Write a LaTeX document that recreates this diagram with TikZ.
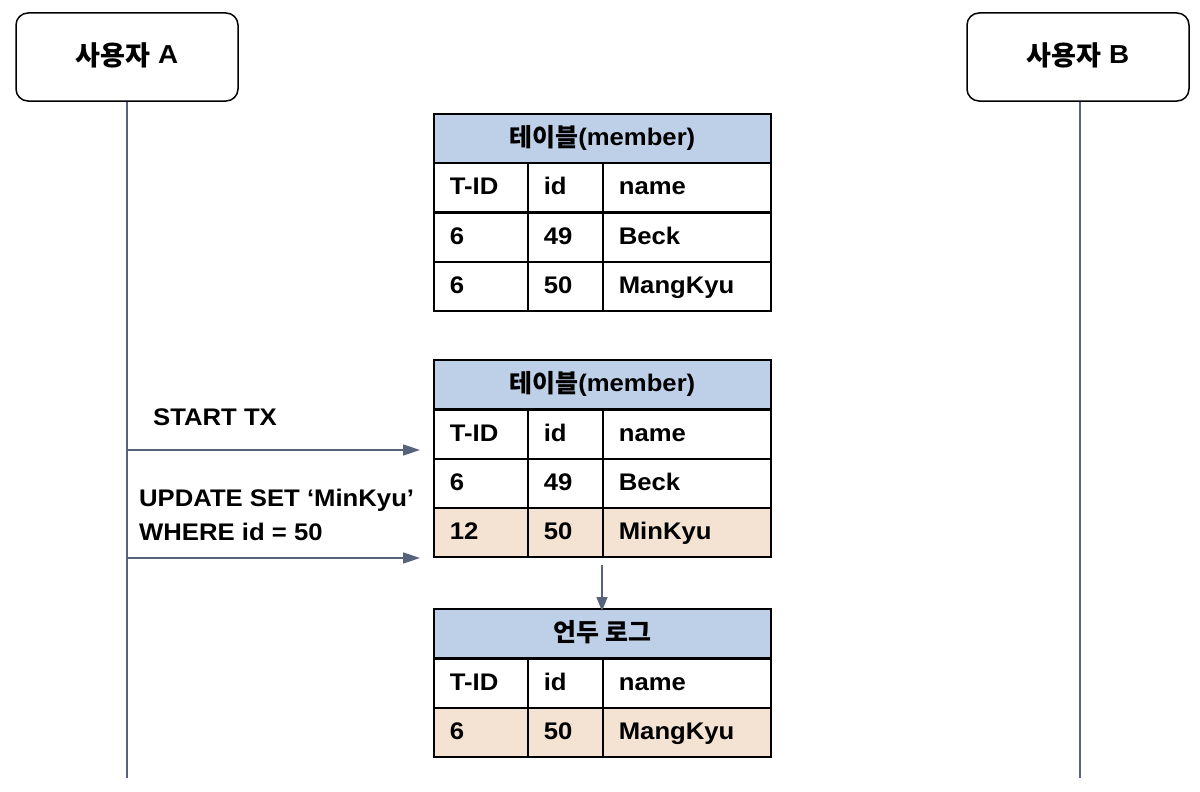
\documentclass[tikz,border=0pt]{standalone}
\usepackage{fontspec}
\setmainfont{Liberation Sans}[FakeStretch=1.07]
\newfontfamily\kr{Noto Sans CJK KR}[Scale=1.04]
\usetikzlibrary{arrows.meta}
\definecolor{hdblue}{RGB}{190,208,232}
\definecolor{rowtan}{RGB}{244,226,210}
\definecolor{lifegray}{RGB}{86,99,122}
\newcommand\hangul[1]{\raisebox{-1.5pt}{\kr #1}}
% one table row: y, name, fill, three cells
\newcommand\tabrow[6]{%
	\node[cell, fill=#3, minimum width=94pt, text width=62pt] (#2a) at (433,#1) {#4};
	\node[cell, fill=#3, minimum width=75pt, text width=43pt] (#2b) at (527,#1) {#5};
	\node[cell, fill=#3, minimum width=168pt, text width=136pt] (#2c) at (602,#1) {#6};}

\begin{document}
\begin{tikzpicture}[x=1pt, y=-1pt,
	txt/.style={font=\bfseries\fontsize{24}{34}\selectfont},
	actor/.style={font=\bfseries\fontsize{26}{30}\selectfont, draw=black, line width=1.5pt, rounded corners=12pt, minimum width=222pt, minimum height=88pt, text height=19pt, text depth=5pt},
	cell/.style={txt, draw=black, line width=1.7pt, anchor=north west, minimum height=49pt, inner xsep=16pt, inner ysep=0pt, text height=18pt, text depth=4pt, align=left},
	head/.style={cell, fill=hdblue, minimum width=337pt, align=center},
	life/.style={draw=lifegray, line width=1.5pt},
	msg/.style={life, -{Triangle[length=17pt,width=11pt]}},
	lbl/.style={txt, anchor=west, inner sep=0pt, align=left}]
	%%%%% START %%%%%
	\useasboundingbox (0,0) rectangle (1200,792);
	
	\node[actor] (usera) at (127,57) {\hangul{사용자} A};
	\node[actor] (userb) at (1078,57) {\hangul{사용자} B};
	\coordinate (aend) at (127,778);
	\coordinate (bend) at (1080,778);
	\draw[life] (usera) -- (aend);
	\draw[life] (userb.south -| bend) -- (bend);
	
	% table before
	\node[head] (t1h) at (433,113) {\hangul{테이블}(member)};
	\tabrow{162}{t1r}{white}{T-ID}{id}{name}
	\tabrow{212}{t1s}{white}{6}{49}{Beck}
	\tabrow{261}{t1t}{white}{6}{50}{MangKyu}
	
	% table after update
	\node[head] (t2h) at (433,359) {\hangul{테이블}(member)};
	\tabrow{409}{t2r}{white}{T-ID}{id}{name}
	\tabrow{458}{t2s}{white}{6}{49}{Beck}
	\tabrow{507}{t2t}{rowtan}{12}{50}{MinKyu}
	
	% undo log
	\node[head] (t3h) at (433,608) {\hangul{언두 로그}};
	\tabrow{658}{t3r}{white}{T-ID}{id}{name}
	\tabrow{707}{t3s}{rowtan}{6}{50}{MangKyu}
	
	% messages
	\coordinate (a1) at (127,450);
	\coordinate (a2) at (127,558);
	\coordinate (m1) at (420,450);
	\coordinate (m2) at (420,558);
	\node[lbl] (starttx) at (153,417) {START TX};
	\node[lbl] (update) at (139,515) {UPDATE SET ‘MinKyu’\\WHERE id = 50};
	\draw[msg] (a1) -- (m1);
	\draw[msg] (a2) -- (m2);
	\draw[msg, -{Triangle[length=14pt,width=11pt]}] ([yshift=-7pt]t2tc.south west) -- ([yshift=-3pt]t3h.north -| t2tc.south west);
	
	%%%%% END %%%%%
\end{tikzpicture}
\end{document}
